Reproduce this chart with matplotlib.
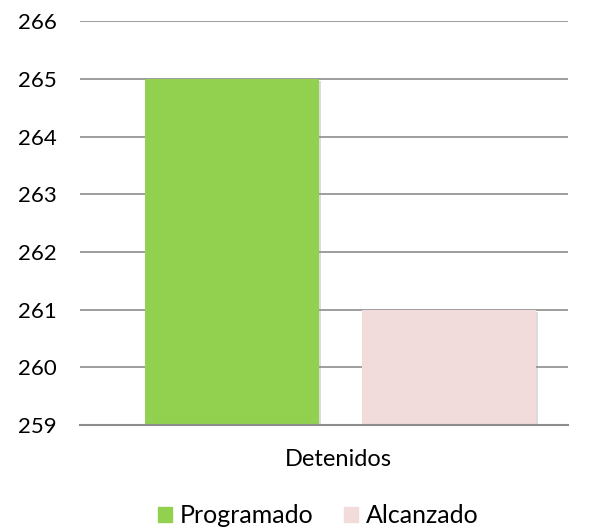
import matplotlib
matplotlib.use("Agg")
import matplotlib.pyplot as plt
import matplotlib.patheffects as pe
from matplotlib.patches import Patch

categories = ["Detenidos"]
series_names = ["Programado", "Alcanzado"]
values = [265, 261]
colors = ["#92D050", "#F2DCDB"]
yticks = [259, 260, 261, 262, 263, 264, 265, 266]

plt.rcParams['font.family'] = ['Lato', 'DejaVu Sans']

fig = plt.figure(figsize=(5.9, 5.28), dpi=100)
ax = fig.add_axes([0.1356, 0.195, 0.827, 0.765])

offsets = [-0.1885, 0.256]
width = 0.357
for off, v, c in zip(offsets, values, colors):
    ax.bar(off, v - yticks[0], bottom=yticks[0], width=width, color=c, zorder=3,
           path_effects=[pe.SimplePatchShadow(offset=(1.5, -1.5), shadow_rgbFace='#999999', alpha=0.35), pe.Normal()])

ax.set_xlim(-0.5, 0.5)
ax.set_ylim(yticks[0], yticks[-1])
ax.set_yticks(yticks)
ax.set_yticklabels([str(t) for t in yticks], fontsize=16)
ax.set_xticks([0.03])
ax.set_xticklabels(categories, fontsize=17)
ax.tick_params(axis='both', length=0)
ax.tick_params(axis='y', pad=17)
ax.tick_params(axis='x', pad=17)
ax.yaxis.grid(True, color='#8C8C8C', linewidth=1.2, zorder=0)
for s in ['top', 'right', 'left']:
    ax.spines[s].set_visible(False)
ax.spines['bottom'].set_color('#8C8C8C')
ax.spines['bottom'].set_linewidth(1.5)
ax.spines['bottom'].set_zorder(4)

handles = [Patch(color=c, label=n) for c, n in zip(colors, series_names)]
fig.legend(handles=handles, loc='center', bbox_to_anchor=(0.539, 0.023), ncol=2,
           frameon=False, fontsize=18, handlelength=0.56, handleheight=0.56,
           handletextpad=0.32, columnspacing=1.2, borderpad=0)

fig.savefig("out.png", dpi=100)
